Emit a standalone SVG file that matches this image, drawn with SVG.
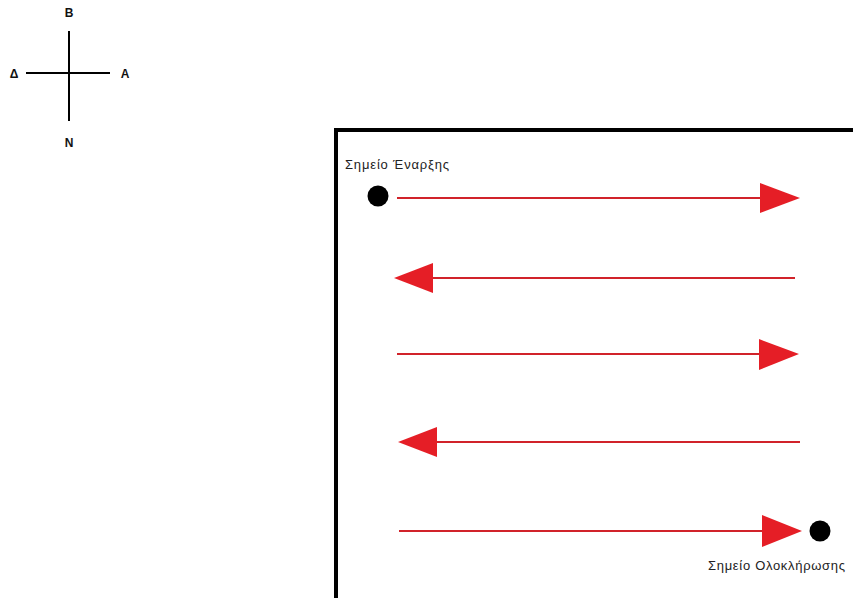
<svg xmlns="http://www.w3.org/2000/svg" width="853" height="598" viewBox="0 0 853 598">
<style>
.lbl{font-family:"URW Gothic","Liberation Sans",sans-serif;font-size:13px;fill:#222}
.cmp{font-family:"Liberation Sans",sans-serif;font-size:12px;font-weight:bold;fill:#111;text-anchor:middle}
.ln{stroke:#d1232a;stroke-width:2;fill:none}
.hd{fill:#e51e26}
</style>
<rect width="853" height="598" fill="#fff"/>
<g id="compass">
<line x1="69" y1="31" x2="69" y2="121" stroke="#000" stroke-width="2"/>
<line x1="26" y1="73" x2="110" y2="73" stroke="#000" stroke-width="2"/>
<text class="cmp" x="69" y="17">B</text>
<text class="cmp" x="14" y="78">Δ</text>
<text class="cmp" x="125" y="78">A</text>
<text class="cmp" x="69" y="147">N</text>
</g>
<g id="field">
<path d="M336,598 V130 H853" stroke="#000" stroke-width="4" fill="none"/>
</g>
<g id="start">
<circle cx="378" cy="196" r="10.5" fill="#000"/>
<text class="lbl" x="345" y="169" textLength="104">Σημείο Έναρξης</text>
</g>
<g id="end">
<circle cx="820" cy="531" r="10.5" fill="#000"/>
<text class="lbl" x="708" y="570" textLength="137">Σημείο Ολοκλήρωσης</text>
</g>
<g id="connectors">
<line class="ln" x1="397" y1="198" x2="762" y2="198"/>
<polygon class="hd" points="760,183 800,198 760,213"/>
<line class="ln" x1="795" y1="278" x2="432" y2="278"/>
<polygon class="hd" points="433,263 394,278 433,293"/>
<line class="ln" x1="397" y1="354" x2="761" y2="354"/>
<polygon class="hd" points="759,339 799,354 759,370"/>
<line class="ln" x1="800" y1="442" x2="436" y2="442"/>
<polygon class="hd" points="437,427 398,442 437,457"/>
<line class="ln" x1="399" y1="531" x2="764" y2="531"/>
<polygon class="hd" points="762,515 802,531 762,547"/>
</g>
</svg>
